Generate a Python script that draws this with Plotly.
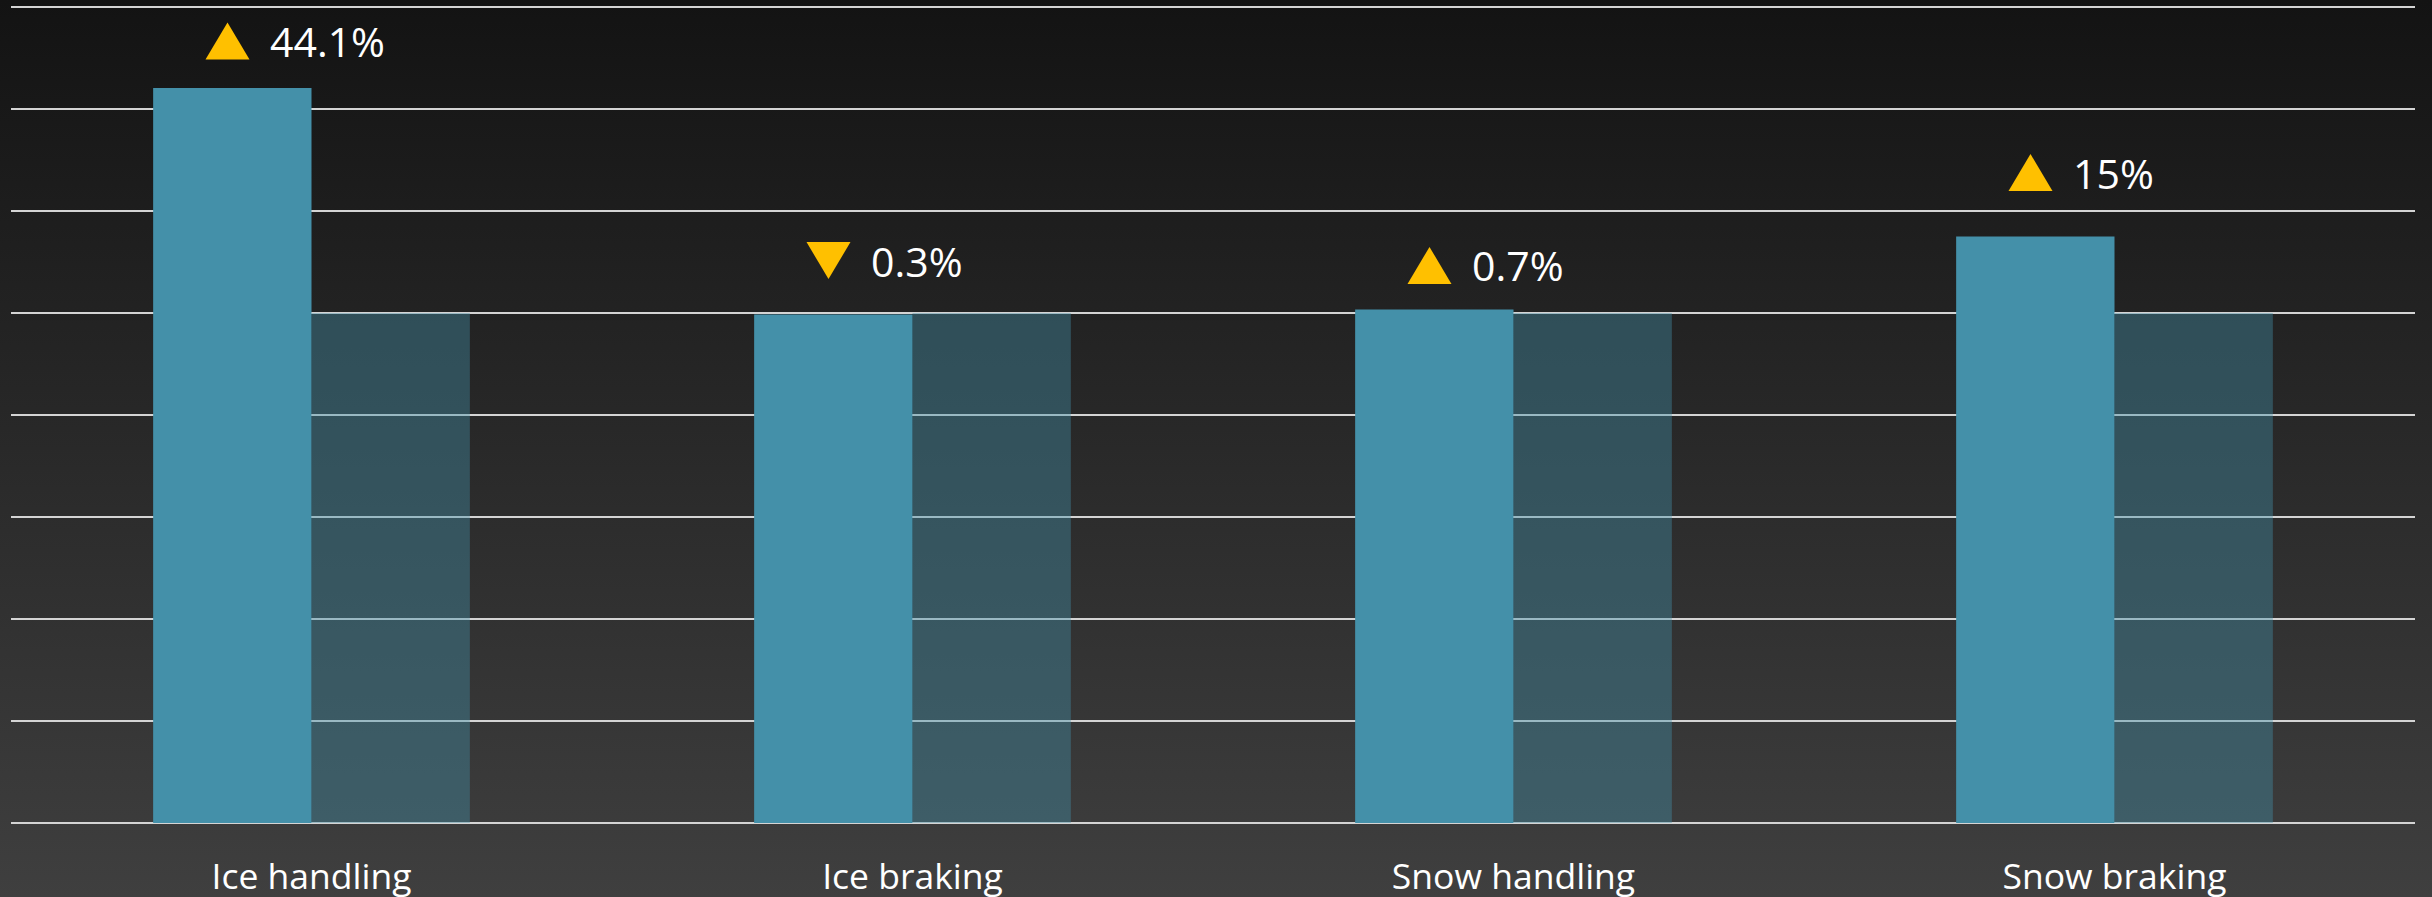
import base64
import plotly.graph_objects as go

# ---- data ----
categories = ["Ice handling", "Ice braking", "Snow handling", "Snow braking"]
new_values = [144.1, 99.7, 100.7, 115.0]      # indexed result (reference = 100)
ref_values = [100, 100, 100, 100]             # reference
change_labels = ["44.1%", "0.3%", "0.7%", "15%"]
change_dirs = ["up", "down", "up", "up"]

# ---- layout / style ----
W, H = 2432, 897
ML, MR, MT, MB = 11, 17, 5, 72
PW, PH = W - ML - MR, H - MT - MB
label_gap_px = [47, 54, 44, 64]   # vertical gap between bar top and its change label
TRI_DX, TXT_DX = -84, -44
TRI_W, TRI_H = 44, 37

PRIMARY = "#4490A9"
SECONDARY = "rgba(68,144,169,0.40)"
GOLD = "#FFC000"
GRID = "#d4d4d4"
FONT = "Open Sans"

svg = (f"<svg xmlns='http://www.w3.org/2000/svg' width='{W}' height='{H}' preserveAspectRatio='none'>"
       "<defs><linearGradient id='g' x1='0' y1='0' x2='0' y2='1'>"
       "<stop offset='0' stop-color='#131313'/><stop offset='1' stop-color='#3f3f3f'/>"
       "</linearGradient></defs><rect width='100%' height='100%' fill='url(#g)'/></svg>")
bg_uri = "data:image/svg+xml;base64," + base64.b64encode(svg.encode()).decode()

fig = go.Figure()
fig.add_trace(go.Bar(x=categories, y=new_values, marker=dict(color=PRIMARY, line=dict(width=0)),
                     name="New", hoverinfo="skip"))
fig.add_trace(go.Bar(x=categories, y=ref_values, marker=dict(color=SECONDARY, line=dict(width=0)),
                     name="Reference", hoverinfo="skip"))

shapes = []
annotations = []
for cat, val, lab, d, gap in zip(categories, new_values, change_labels, change_dirs, label_gap_px):
    x0, x1 = TRI_DX - TRI_W / 2, TRI_DX + TRI_W / 2
    yb, yt = gap - TRI_H / 2, gap + TRI_H / 2
    if d == "up":
        path = f"M{x0},{yb} L{x1},{yb} L{TRI_DX},{yt} Z"
    else:
        path = f"M{x0},{yt} L{x1},{yt} L{TRI_DX},{yb} Z"
    shapes.append(dict(type="path", xref="x", yref="y", xsizemode="pixel", ysizemode="pixel",
                       xanchor=cat, yanchor=val, path=path,
                       fillcolor=GOLD, line=dict(width=0), layer="above"))
    annotations.append(dict(x=cat, y=val, xref="x", yref="y", text=lab, showarrow=False,
                            xanchor="left", yanchor="middle", xshift=TXT_DX, yshift=gap,
                            font=dict(family=FONT, size=41, color="white")))

fig.update_layout(
    width=W, height=H,
    margin=dict(l=ML, r=MR, t=MT, b=MB, pad=0, autoexpand=False),
    paper_bgcolor="#2a2a2a", plot_bgcolor="rgba(0,0,0,0)",
    barmode="group", bargap=0.473, bargroupgap=0,
    showlegend=False,
    shapes=shapes, annotations=annotations,
    images=[dict(source=bg_uri, xref="paper", yref="paper",
                 x=-ML / PW, y=1 + MT / PH, sizex=W / PW, sizey=H / PH,
                 xanchor="left", yanchor="top", sizing="stretch", layer="below")],
    xaxis=dict(type="category", range=[-0.5, 3.5], showgrid=False, zeroline=False, showline=False,
               ticks="", ticklabelstandoff=27, automargin=False,
               tickfont=dict(family=FONT, size=35.5, color="white")),
    yaxis=dict(range=[-0.4, 160.4], tickvals=[0, 20, 40, 60, 80, 100, 120, 140, 160],
               showgrid=True, gridcolor=GRID, gridwidth=2, automargin=False,
               zeroline=True, zerolinecolor=GRID, zerolinewidth=2,
               showline=False, showticklabels=False, ticks=""),
)

page_css = ("var s=document.createElement('style');"
            "s.textContent='html,body{margin:0;padding:0;overflow:hidden;background:#3f3f3f;}';"
            "document.head.appendChild(s);")
fig.write_html("out.html", config={"displayModeBar": False, "staticPlot": True},
               post_script=page_css)
